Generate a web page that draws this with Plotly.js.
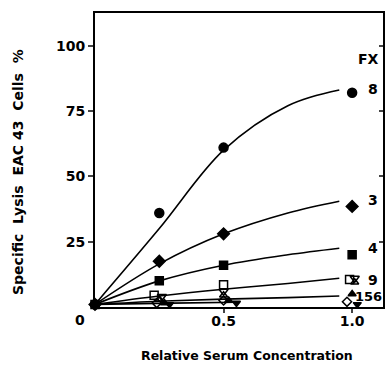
<!DOCTYPE html>
<html>
<head>
<meta charset="utf-8">
<script src="https://cdn.plot.ly/plotly-3.0.1.min.js"></script>
<style>html,body{margin:0;padding:0;background:#fff;}#chart{width:386px;height:371px;}</style>
</head>
<body>
<div id="chart"></div>
<script>
// Measured points (relative serum concentration vs specific lysis %)
const conc = [0, 0.25, 0.5, 1.0];
const lysisFX8 = [1, 36, 61, 82];
const lysisFX3 = [1, 17.5, 28, 38.5];
const lysisFX4 = [1, 10, 16, 20];

const concFX9sq = [0.23, 0.5, 0.99];
const lysisFX9sq = [4.5, 8.5, 10.5];
const concFX9td = [0.26, 0.5, 1.01];
const lysisFX9td = [4, 6, 11];
const concFX9tu = [0.25, 0.5, 1.01];
const lysisFX9tu = [3, 4.5, 9.5];

const concFX1 = [0.27, 0.52, 1.0];
const lysisFX1 = [1.5, 2.5, 5];
const concFX5 = [0.29, 0.55, 1.02];
const lysisFX5 = [1, 1.5, 1];
const concFX6 = [0.24, 0.5, 0.98];
const lysisFX6 = [1.5, 2.5, 2];

// Fitted curves
const fitX = [0, 0.25, 0.5, 0.75, 0.95];
const fitFX8 = [1, 30, 60, 77, 83];
const fitFX3 = [1, 16.5, 28, 36, 40.5];
const fitFX4 = [1, 10, 16, 20, 22.5];
const fitFX9 = [1, 4.2, 6.8, 9, 11];
const fitFX156 = [1, 2.2, 3, 3.6, 4.2];
const fitLowX = [0, 0.3, 0.55];
const fitLow = [1, 1.5, 1.8];

const seriesLabels = ['FX', '8', '3', '4', '9'];
const labelX = [1.065, 1.08, 1.08, 1.08, 1.08];
const labelY = [95, 83.5, 41, 22.5, 10.5];
const lastLabel = '156';
const lastLabelY = 4;

const yTicks = [25, 50, 75, 100];
const xTicks = [0.5, 1.0];
const xTickText = ['0.5', '1.0'];

const FONT = 'DejaVu Sans, Liberation Sans, Arial, sans-serif';
const bold = (s) => ({family: FONT, size: s, color: '#000', weight: 'bold'});

function fit(x, y) {
  return {x: x, y: y, mode: 'lines', type: 'scatter', line: {color: '#000', width: 1.6, shape: 'spline'}, hoverinfo: 'skip', showlegend: false};
}
function pts(x, y, sym, size) {
  return {x: x, y: y, mode: 'markers', type: 'scatter', cliponaxis: false,
    marker: {symbol: sym, size: size || 8, color: '#000', line: {color: '#000', width: 1.5}}, showlegend: false};
}

const traces = [
  fit(fitX, fitFX8), fit(fitX, fitFX3), fit(fitX, fitFX4), fit(fitX, fitFX9), fit(fitX, fitFX156), fit(fitLowX, fitLow),
  pts(conc, lysisFX8, 'circle', 9),
  pts(conc, lysisFX3, 'diamond', 9),
  pts(conc, lysisFX4, 'square', 8),
  pts(concFX9sq, lysisFX9sq, 'square-open', 8),
  pts(concFX9td, lysisFX9td, 'triangle-down-open', 8),
  pts(concFX9tu, lysisFX9tu, 'triangle-up-open', 7),
  pts(concFX1, lysisFX1, 'triangle-up', 7),
  pts(concFX5, lysisFX5, 'triangle-down', 7),
  pts(concFX6, lysisFX6, 'diamond-open', 7),
  {x: [0], y: [0], yaxis: 'y2', mode: 'markers', marker: {opacity: 0}, hoverinfo: 'skip', showlegend: false}
];

const annotations = seriesLabels.map((t, i) => ({
  x: labelX[i], y: labelY[i], xref: 'x', yref: 'y', text: t, showarrow: false,
  xanchor: 'center', yanchor: 'middle', font: bold(14)
}));
annotations.push({x: (384 - 95) / 288, y: lastLabelY, xref: 'paper', yref: 'y', text: lastLabel, showarrow: false,
  xanchor: 'right', yanchor: 'middle', font: bold(13)});
annotations.push({x: -15 / 288, y: -13 / 294, xref: 'paper', yref: 'paper', text: '0', showarrow: false,
  xanchor: 'center', yanchor: 'middle', font: bold(14)});
annotations.push({x: -77 / 288, y: (307 - 172) / 294, xref: 'paper', yref: 'paper', textangle: -90,
  text: 'Specific  Lysis  EAC 43  Cells  %', showarrow: false, xanchor: 'center', yanchor: 'middle',
  font: bold(14)});
annotations.push({x: (247 - 95) / 288, y: -48 / 294, xref: 'paper', yref: 'paper',
  text: 'Relative Serum Concentration', showarrow: false, xanchor: 'center', yanchor: 'middle',
  font: bold(12.5)});

const layout = {
  width: 386, height: 371,
  margin: {l: 95, r: 3, t: 13, b: 64, pad: 0},
  paper_bgcolor: '#fff', plot_bgcolor: '#fff',
  showlegend: false,
  xaxis: {range: [0, 1.12], tickvals: xTicks, ticktext: xTickText, ticks: 'outside', ticklen: 4, tickwidth: 2,
    ticklabelstandoff: -4,
    showgrid: false, zeroline: false, showline: true, linewidth: 2, linecolor: '#000', mirror: true,
    tickfont: bold(14)},
  yaxis: {range: [0, 112.5], tickvals: yTicks, ticks: 'outside', ticklen: 5, tickwidth: 2,
    showgrid: false, zeroline: false, showline: true, linewidth: 2, linecolor: '#000', mirror: true,
    tickfont: bold(14)},
  yaxis2: {range: [0, 112.5], overlaying: 'y', side: 'right', tickvals: yTicks, ticks: 'inside', ticklen: 4, tickwidth: 2,
    showticklabels: false, showgrid: false, zeroline: false, showline: false},
  annotations: annotations
};

Plotly.newPlot('chart', traces, layout, {staticPlot: true, displayModeBar: false});
</script>
</body>
</html>
